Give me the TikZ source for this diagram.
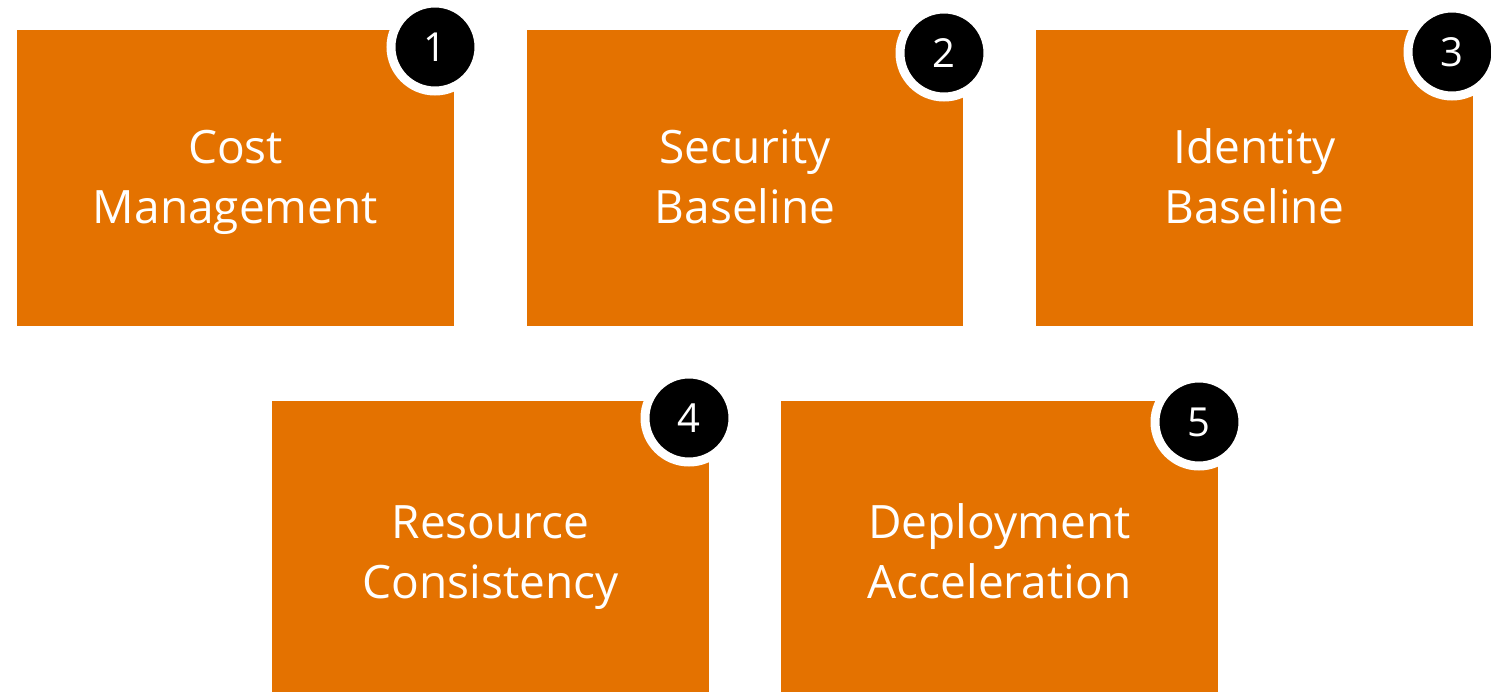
\documentclass[tikz,border=0pt]{standalone}
\usepackage{fontspec}
\setmainfont{Open Sans}
\definecolor{boxorange}{HTML}{E47200}
\begin{document}
\begin{tikzpicture}[x=1pt,y=-1pt,
  card/.style={fill=boxorange, draw=none, text=white, align=center, font=\fontsize{46}{60}\selectfont},
  badge/.style={circle, fill=black, draw=white, line width=9pt, minimum size=88pt, inner sep=0pt, text=white, font=\fontsize{40}{44}\selectfont}]
\useasboundingbox (0,0) rectangle (1491,692);
\fill[white] (0,0) rectangle (1491,692);
\fill[boxorange] (17,30) rectangle (454,326);
\fill[boxorange] (527,30) rectangle (963,326);
\fill[boxorange] (1036,30) rectangle (1473,326);
\fill[boxorange] (272,401) rectangle (709,692);
\fill[boxorange] (781,401) rectangle (1218,692);
\node[card] (t1) at (235.5,182) {\strut Cost\\\strut Management};
\node[card] (t2) at (745,182) {\strut Security\\\strut Baseline};
\node[card] (t3) at (1254.5,182) {\strut Identity\\\strut Baseline};
\node[card] (t4) at (490.5,556) {\strut Resource\\\strut Consistency};
\node[card] (t5) at (999.5,556) {\strut Deployment\\\strut Acceleration};
\node[badge] (b1) at (435,47) {1};
\node[badge] (b2) at (944,53) {2};
\node[badge] (b3) at (1452,52) {3};
\node[badge] (b4) at (689,418) {4};
\node[badge] (b5) at (1199,422) {5};
\end{tikzpicture}
\end{document}
